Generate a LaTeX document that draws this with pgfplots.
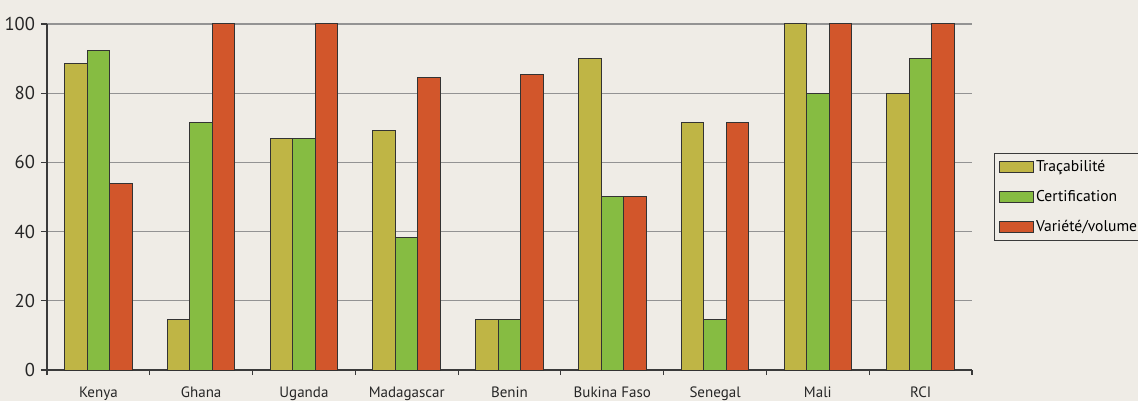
\documentclass[border=0pt]{standalone}
\usepackage{pgfplots}
\pgfplotsset{compat=1.18}
\usepackage{fontspec}
\setmainfont{PT Sans}
\definecolor{bgc}{HTML}{EFECE6}
\definecolor{cyel}{HTML}{BFB545}
\definecolor{cgrn}{HTML}{86BC42}
\definecolor{cred}{HTML}{D2562B}
\definecolor{axc}{HTML}{3A3A3A}
\begin{document}
\begin{tikzpicture}
\path[use as bounding box] (-23.5pt,-15.5pt) rectangle (545.5pt,185pt);
\fill[bgc] (-23.5pt,-15.5pt) rectangle (545.5pt,185pt);
\begin{axis}[
  at={(0,0)}, anchor=south west,
  scale only axis, width=462.5pt, height=173pt,
  ybar=0pt, bar width=11.25pt,
  xmin=-0.5, xmax=8.5, ymin=0, ymax=100,
  axis x line*=bottom, axis y line*=left,
  axis line style={axc, line width=0.6pt, -},
  xtick={0,...,8},
  xticklabels={Kenya,Ghana,Uganda,Madagascar,Benin,Bukina Faso,Senegal,Mali,RCI},
  major x tick style={draw=none},
  minor xtick={-0.5,0.5,...,8.5},
  minor x tick style={axc, line width=0.6pt},
  minor tick length=2.5pt,
  ytick={0,20,...,100},
  y tick style={axc, line width=0.6pt},
  major tick length=3pt,
  tick align=outside,
  ymajorgrids, major grid style={gray!85, line width=0.6pt},
  /pgf/number format/assume math mode=true,
  yticklabel style={font=\fontsize{9.3}{10}\selectfont, text=black!85, xshift=0.5pt},
  xticklabel style={font=\fontsize{7.5}{8}\selectfont, text=black!85, yshift=-2pt},
  legend style={at={(1,0.5)}, anchor=west, xshift=11pt, draw=axc, fill=bgc,
    font=\fontsize{7.8}{9}\selectfont, row sep=5.5pt, inner sep=2pt, line width=0.5pt,
    nodes={inner sep=1.2pt}},
  legend cell align=left,
  area legend,
  every axis plot/.append style={draw=black!80, line width=0.5pt},
]
\addplot[fill=cyel] coordinates {(0,88.5) (1,14.6) (2,66.9) (3,69.2) (4,14.6) (5,90) (6,71.5) (7,100) (8,80)};
\addplot[fill=cgrn] coordinates {(0,92.3) (1,71.6) (2,66.9) (3,38.4) (4,14.6) (5,50) (6,14.6) (7,80) (8,90)};
\addplot[fill=cred] coordinates {(0,53.8) (1,100) (2,100) (3,84.6) (4,85.3) (5,50) (6,71.5) (7,100) (8,100)};
\legend{Traçabilité,Certification,Variété/volume}
\end{axis}
\end{tikzpicture}
\end{document}
